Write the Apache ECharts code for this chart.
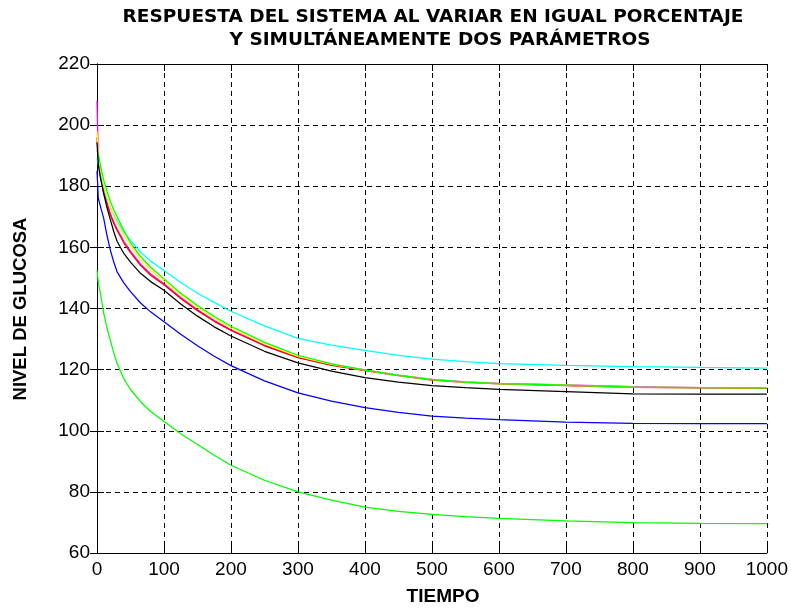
<!DOCTYPE html>
<html>
<head>
<meta charset="utf-8">
<script src="https://cdn.jsdelivr.net/npm/echarts@6/dist/echarts.min.js"></script>
<style>
  html, body { margin: 0; padding: 0; background: #ffffff; }
  #chart { width: 791px; height: 610px; }
</style>
</head>
<body>
<div id="chart"></div>
<script>
// Simulation time samples (shared by every curve)
const TIME = [0, 2, 5, 10, 15, 20, 25, 30, 40, 50, 65, 80, 100, 125, 150, 175, 200, 250, 300, 350, 400, 450, 500, 550, 600, 700, 800, 900, 1000];

// Glucose level of each simulated case
const MAGENTA = [208, 189, 184, 178.5, 174.5, 171, 168.3, 166, 162, 158.8, 154.5, 151.3, 148.1, 143.6, 139.6, 136.1, 133.0, 128.0, 124.0, 121.6, 119.9, 118.2, 116.8, 116.0, 115.5, 115.0, 114.4, 114.1, 114.0];
const RED     = [196, 188.5, 183.5, 178, 174, 170.5, 167.8, 165.5, 161.5, 158.3, 154.1, 150.9, 147.8, 143.3, 139.3, 135.8, 132.8, 127.8, 123.9, 121.4, 119.7, 118.0, 116.6, 115.8, 115.3, 114.8, 114.2, 114.0, 113.9];
const CYAN    = [189, 187, 184, 179.5, 176, 173, 170.6, 168.5, 165, 162.3, 158.5, 155.5, 152.4, 148.5, 145.0, 142.0, 139.1, 134.3, 130.2, 128.0, 126.3, 124.7, 123.4, 122.6, 122.0, 121.4, 121.0, 120.7, 120.5];
const YELLOW  = [198, 190, 185.5, 180.5, 176.5, 173, 170.3, 168, 164, 160.5, 156, 152.5, 149.0, 144.4, 140.4, 136.8, 133.6, 128.4, 124.3, 121.7, 119.8, 118.1, 116.7, 115.9, 115.4, 114.9, 114.3, 114.1, 114.0];
const GREEN   = [191.5, 190.5, 187, 182, 178.3, 175, 172.3, 170, 165.5, 161.5, 157, 153.5, 149.7, 145.0, 141.0, 137.4, 134.2, 128.9, 124.7, 121.9, 119.8, 118.1, 116.7, 115.9, 115.4, 114.9, 114.3, 114.1, 114.0];
const BLACK   = [194.4, 187, 183, 177.5, 172.9, 169, 165.2, 162, 158, 155.2, 151.5, 148.8, 146.0, 141.5, 137.5, 134.0, 131.0, 126.0, 122.2, 119.5, 117.4, 115.9, 114.8, 114.1, 113.5, 112.8, 112.1, 112.0, 112.0];
const BLUE    = [185, 176, 173.5, 169.5, 163.8, 159, 155.2, 152, 148.4, 145.5, 141.8, 138.9, 135.7, 131.6, 127.8, 124.4, 121.3, 116.3, 112.4, 109.7, 107.6, 106.0, 104.8, 104.1, 103.6, 102.8, 102.4, 102.3, 102.3];
const GREEN_LOW = [152.5, 148.5, 145, 138.5, 133.6, 129.5, 125.5, 122, 117, 113.5, 109.5, 106.3, 103.0, 99.0, 95.5, 92.0, 88.7, 83.8, 80.0, 77.3, 75.0, 73.6, 72.6, 71.9, 71.3, 70.5, 69.9, 69.7, 69.6];

// Axis ranges and texts
const X_RANGE = [0, 1000, 100];
const Y_RANGE = [60, 220, 20];
const TITLE_LINES = ['RESPUESTA DEL SISTEMA AL VARIAR EN IGUAL PORCENTAJE', 'Y SIMULTÁNEAMENTE DOS PARÁMETROS'];
const X_NAME = 'TIEMPO';
const Y_NAME = 'NIVEL DE GLUCOSA';

// Drawing order: later curves are painted on top
const CURVES = [
  { values: MAGENTA, color: '#ff00ff' },
  { values: RED, color: '#ff0000' },
  { values: CYAN, color: '#00ffff' },
  { values: YELLOW, color: '#ffff00' },
  { values: GREEN, color: '#00ff00' },
  { values: BLACK, color: '#000000' },
  { values: BLUE, color: '#0000ff' },
  { values: GREEN_LOW, color: '#00ff00' }
];

const chart = echarts.init(document.getElementById('chart'), null, { renderer: 'canvas' });

const tickFont = { fontFamily: 'Liberation Sans', fontSize: 19, color: '#000000' };
const dashed = { show: true, lineStyle: { color: '#000000', width: 1, type: [5, 4] } };
const solidAxis = { show: true, lineStyle: { color: '#000000', width: 1 } };
const innerTick = { show: true, inside: true, length: 7, lineStyle: { color: '#000000' } };
const plainNumber = function (v) { return String(v); };

const option = {
  backgroundColor: '#ffffff',
  animation: false,
  grid: { left: 97, top: 64, width: 672, height: 489, show: false },
  xAxis: [
    {
      type: 'value', min: X_RANGE[0], max: X_RANGE[1], interval: X_RANGE[2],
      axisLine: solidAxis, axisTick: innerTick,
      axisLabel: Object.assign({ margin: 7, formatter: plainNumber }, tickFont),
      splitLine: dashed
    },
    {
      type: 'value', position: 'top', min: X_RANGE[0], max: X_RANGE[1], interval: X_RANGE[2],
      axisLine: solidAxis, axisTick: innerTick, axisLabel: { show: false }, splitLine: { show: false }
    }
  ],
  yAxis: [
    {
      type: 'value', min: Y_RANGE[0], max: Y_RANGE[1], interval: Y_RANGE[2],
      axisLine: solidAxis, axisTick: innerTick,
      axisLabel: Object.assign({ margin: 7, formatter: plainNumber }, tickFont),
      splitLine: dashed
    },
    {
      type: 'value', position: 'right', min: Y_RANGE[0], max: Y_RANGE[1], interval: Y_RANGE[2],
      axisLine: solidAxis, axisTick: innerTick, axisLabel: { show: false }, splitLine: { show: false }
    }
  ],
  graphic: [
    {
      type: 'text', x: 433, y: 17.5,
      style: {
        text: TITLE_LINES[0], fill: '#000000', align: 'center', verticalAlign: 'middle',
        font: 'bold 18.5px "DejaVu Sans"'
      }
    },
    {
      type: 'text', x: 440, y: 40,
      style: {
        text: TITLE_LINES[1], fill: '#000000', align: 'center', verticalAlign: 'middle',
        font: 'bold 18.5px "DejaVu Sans"'
      }
    },
    {
      type: 'text', x: 443, y: 597,
      style: {
        text: X_NAME, fill: '#000000', align: 'center', verticalAlign: 'middle',
        font: 'bold 19px "Liberation Sans"'
      }
    },
    {
      type: 'text', x: 21, y: 309, rotation: Math.PI / 2,
      style: {
        text: Y_NAME, fill: '#000000', align: 'center', verticalAlign: 'middle',
        font: 'bold 18.5px "Liberation Sans"'
      }
    }
  ],
  series: CURVES.map(function (c) {
    return {
      type: 'line',
      data: TIME.map(function (t, i) { return [t, c.values[i]]; }),
      showSymbol: false,
      symbol: 'none',
      lineStyle: { color: c.color, width: 1.25 },
      itemStyle: { color: c.color },
      clip: true
    };
  })
};

chart.setOption(option);
</script>
</body>
</html>
